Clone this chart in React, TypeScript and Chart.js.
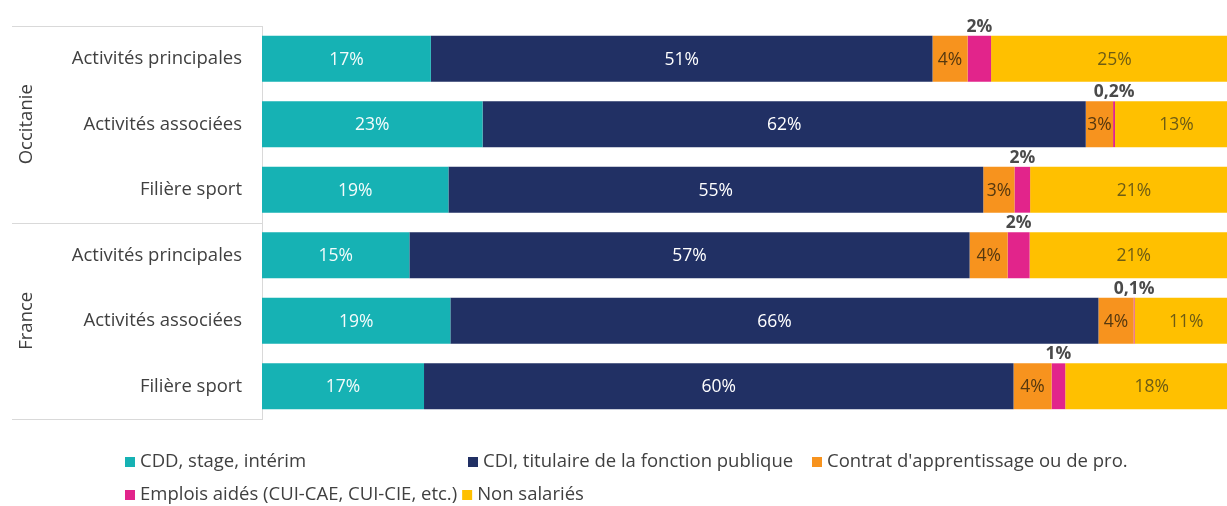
import React, { useEffect, useRef } from 'react';
import { Chart, registerables } from 'chart.js';

Chart.register(...registerables);

// ---- DATA ----
const categories = [
  'Activités principales',
  'Activités associées',
  'Filière sport',
  'Activités principales',
  'Activités associées',
  'Filière sport',
];
const groups = ['Occitanie', 'France'];
const groupSizes = [3, 3];
const seriesNames = [
  'CDD, stage, intérim',
  'CDI, titulaire de la fonction publique',
  "Contrat d'apprentissage ou de pro.",
  'Emplois aidés (CUI-CAE, CUI-CIE, etc.)',
  'Non salariés',
];
const cdd = [17.3, 22.6, 19.1, 15.1, 19.3, 16.6];
const cdi = [51.4, 61.8, 54.8, 57.4, 66.4, 60.4];
const apprentissage = [3.6, 2.8, 3.2, 3.9, 3.6, 3.9];
const aides = [2.4, 0.2, 1.6, 2.25, 0.1, 1.4];
const nonSalaries = [25.3, 12.6, 21.3, 21.35, 10.6, 17.7];

// ---- STYLE ----
const colors = ['#16b2b4', '#213064', '#f7931e', '#e2248b', '#ffc000'];
const labelColors = ['#f4fbfb', '#ffffff', '#55380f', '#4a4a4a', '#6e5c14'];
const FONT = '"Open Sans", "DejaVu Sans", sans-serif';
const TEXT = '#404040';
const RULE = '#d9d9d9';

const fmt = (v: number) =>
  v >= 1 ? `${Math.round(v)}%` : `${v.toFixed(1).replace('.', ',')}%`;

const decorPlugin = {
  id: 'decor',
  afterDatasetsDraw(chart: any) {
    const ctx = chart.ctx;
    ctx.save();
    chart.data.datasets.forEach((ds: any, di: number) => {
      const meta = chart.getDatasetMeta(di);
      meta.data.forEach((el: any, i: number) => {
        const v = ds.data[i] as number;
        const p = el.getProps(['x', 'base', 'y', 'height'], true);
        const cx = (p.x + p.base) / 2;
        const txt = fmt(v);
        if (di === 3) {
          ctx.font = `bold 17.5px ${FONT}`;
          ctx.fillStyle = labelColors[di];
          ctx.textAlign = 'center';
          ctx.textBaseline = 'alphabetic';
          ctx.fillText(txt, cx, p.y - p.height / 2 - 4);
        } else {
          ctx.font = `17.5px ${FONT}`;
          ctx.fillStyle = labelColors[di];
          ctx.textAlign = 'center';
          ctx.textBaseline = 'middle';
          ctx.fillText(txt, cx, p.y + 1);
        }
      });
    });
    ctx.restore();
  },
  afterDraw(chart: any) {
    const ctx = chart.ctx;
    const area = chart.chartArea;
    const yScale = chart.scales.y;
    ctx.save();
    // group separators
    ctx.strokeStyle = RULE;
    ctx.lineWidth = 1;
    const lines: number[] = [area.top];
    let idx = 0;
    const centers: number[] = [];
    groupSizes.forEach((n, gi) => {
      const first = yScale.getPixelForValue(idx);
      const last = yScale.getPixelForValue(idx + n - 1);
      centers.push((first + last) / 2);
      idx += n;
      if (gi < groupSizes.length - 1) {
        lines.push((last + yScale.getPixelForValue(idx)) / 2);
      }
    });
    lines.push(area.bottom);
    lines.forEach((ly) => {
      const yy = Math.round(ly) + 0.5;
      ctx.beginPath();
      ctx.moveTo(12, yy);
      ctx.lineTo(area.left, yy);
      ctx.stroke();
    });
    // group labels
    ctx.font = `18.5px ${FONT}`;
    ctx.fillStyle = TEXT;
    ctx.textAlign = 'center';
    ctx.textBaseline = 'middle';
    groups.forEach((g, gi) => {
      ctx.save();
      ctx.translate(27, centers[gi]);
      ctx.rotate(-Math.PI / 2);
      ctx.fillText(g, 0, 0);
      ctx.restore();
    });
    // legend
    ctx.font = `18.5px ${FONT}`;
    ctx.textAlign = 'left';
    ctx.textBaseline = 'middle';
    const drawItem = (i: number, x: number, y: number) => {
      ctx.fillStyle = colors[i];
      ctx.fillRect(x, y - 5, 10, 10);
      ctx.fillStyle = TEXT;
      ctx.fillText(seriesNames[i], x + 15, y);
      return x + 15 + ctx.measureText(seriesNames[i]).width;
    };
    drawItem(0, 125, 462);
    drawItem(1, 468, 462);
    drawItem(2, 812, 462);
    const end = drawItem(3, 125, 495);
    drawItem(4, end + 5, 495);
    ctx.restore();
  },
};

export default function App() {
  const ref = useRef<HTMLCanvasElement | null>(null);

  useEffect(() => {
    if (!ref.current) return;
    const series = [cdd, cdi, apprentissage, aides, nonSalaries];
    const chart = new Chart(ref.current, {
      type: 'bar',
      data: {
        labels: categories,
        datasets: series.map((d, i) => ({
          label: seriesNames[i],
          data: d,
          backgroundColor: colors[i],
          borderWidth: 0,
          categoryPercentage: 1,
          barPercentage: 0.7,
        })),
      },
      options: {
        indexAxis: 'y',
        responsive: false,
        animation: false,
        layout: { padding: { left: 0, right: 12, top: 26, bottom: 87 } },
        plugins: {
          legend: { display: false },
          tooltip: { enabled: false },
          title: { display: false },
        },
        scales: {
          x: {
            stacked: true,
            min: 0,
            max: 100,
            display: false,
          },
          y: {
            stacked: true,
            grid: { display: false, drawTicks: false },
            border: { display: true, color: RULE, width: 1 },
            ticks: {
              color: TEXT,
              font: { family: FONT, size: 18.5 },
              padding: 20,
            },
            afterFit(scale: any) {
              scale.width = 262;
              scale.paddingTop = 0;
              scale.paddingBottom = 0;
            },
          },
        },
      },
      plugins: [decorPlugin],
    } as any);
    return () => chart.destroy();
  }, []);

  return (
    <div
      style={{
        position: 'absolute',
        left: 0,
        top: 0,
        width: 1227,
        height: 506,
        overflow: 'hidden',
        background: '#ffffff',
      }}
    >
      <canvas ref={ref} width={1250} height={506} style={{ display: 'block' }} />
    </div>
  );
}
